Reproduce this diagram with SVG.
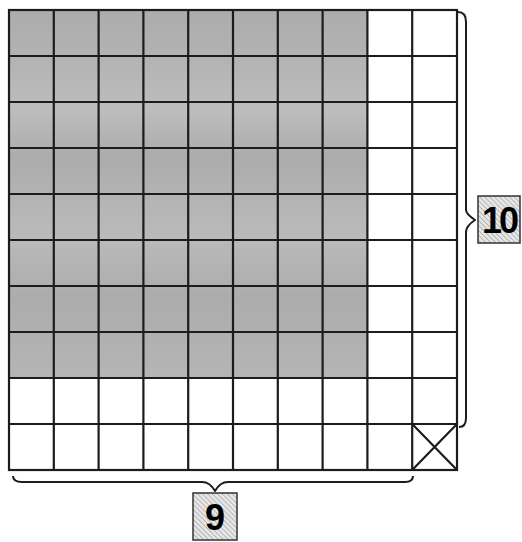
<svg xmlns="http://www.w3.org/2000/svg" width="522" height="542" viewBox="0 0 522 542">
<defs>
<linearGradient id="shade" x1="0" y1="0" x2="0" y2="1">
<stop offset="0" stop-color="#acacac"/>
<stop offset="0.12" stop-color="#b2b2b2"/>
<stop offset="0.27" stop-color="#bdbdbd"/>
<stop offset="0.4" stop-color="#acacac"/>
<stop offset="0.52" stop-color="#b4b4b4"/>
<stop offset="0.62" stop-color="#bababa"/>
<stop offset="0.78" stop-color="#acacac"/>
<stop offset="1" stop-color="#b5b5b5"/>
</linearGradient>
<pattern id="hatch" width="3.5" height="3.5" patternUnits="userSpaceOnUse" patternTransform="rotate(-45)">
<rect width="3.5" height="3.5" fill="#e6e6e6"/>
<line x1="0" y1="0" x2="0" y2="3.5" stroke="#9a9a9a" stroke-width="1.2"/>
</pattern>
</defs>
<style>
.grid{stroke:#1c1c1c;stroke-width:2.2;fill:none}
.brace{stroke:#1c1c1c;stroke-width:2;fill:none;stroke-linejoin:round}
.lbl{fill:url(#hatch);stroke:#333;stroke-width:1.5}
.num{font-family:"Liberation Sans",Arial,sans-serif;font-weight:bold;font-size:36px;fill:#000;text-anchor:middle}
</style>
<rect width="522" height="542" fill="#ffffff"/>
<g id="grid">
<rect x="9" y="10" width="358.4" height="368" fill="url(#shade)"/>
<rect class="grid" x="9" y="10" width="448" height="460"/>
<path class="grid" d="M53.8,10V470M98.6,10V470M143.4,10V470M188.2,10V470M233,10V470M277.8,10V470M322.6,10V470M367.4,10V470M412.2,10V470"/>
<path class="grid" d="M9,56H457M9,102H457M9,148H457M9,194H457M9,240H457M9,286H457M9,332H457M9,378H457M9,424H457"/>
<path class="grid" d="M412.2,424L457,470M457,424L412.2,470"/>
</g>
<g id="connectors">
<path class="brace" d="M458,12Q466,12 466,22L466,210Q466,214 475,220Q466,226 466,232L466,418Q466,427 459,427"/>
<path class="brace" d="M13,476Q13,482 22,482L202,482Q210,482 215,491Q220,482 228,482L405,482Q413,482 413,476"/>
</g>
<g id="label-10">
<rect class="lbl" x="478" y="196" width="42" height="47"/>
<text class="num" x="499" y="233" letter-spacing="-3">10</text>
</g>
<g id="label-9">
<rect class="lbl" x="193" y="493" width="44" height="47"/>
<text class="num" x="215" y="530">9</text>
</g>
</svg>
